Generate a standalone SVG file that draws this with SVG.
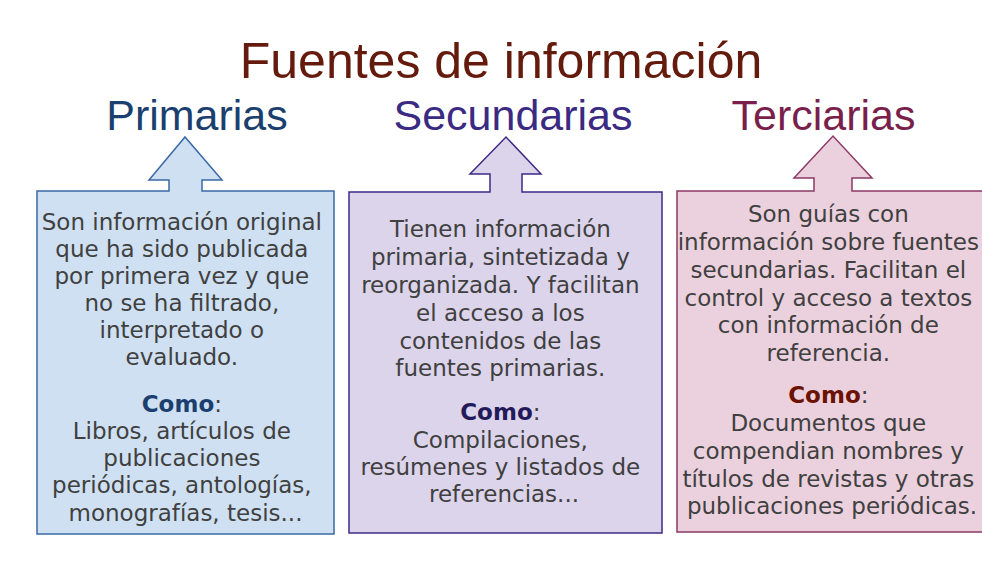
<svg xmlns="http://www.w3.org/2000/svg" width="982" height="570" viewBox="0 0 982 570">
<style>
.title{font-family:"Liberation Sans",Arial,sans-serif;font-size:50px;fill:#641a0c;text-anchor:middle}
.hdr{font-family:"Liberation Sans",Arial,sans-serif;font-size:43px;text-anchor:middle}
.body{font-family:"DejaVu Sans",Verdana,sans-serif;font-size:23px;fill:#404040;text-anchor:middle}
.como{font-weight:bold}
.shape{stroke-width:1.5}
</style>
<rect width="982" height="570" fill="#ffffff"/>
<text class="title" x="501" y="78">Fuentes de información</text>
<g id="primarias">
<text class="hdr" x="197" y="130" fill="#1b3f6e">Primarias</text>
<path class="shape" d="M37,191 H169 V180 H149 L185,137 L222,180 H202 V191 H334 V534 H37 Z" fill="#cfe0f2" stroke="#3b68a6"/>
<text class="body" x="185.5">
<tspan x="185.5" y="230">Son información original</tspan>
<tspan x="185.5" y="257">que ha sido publicada</tspan>
<tspan x="185.5" y="284">por primera vez y que</tspan>
<tspan x="185.5" y="311">no se ha filtrado,</tspan>
<tspan x="185.5" y="338">interpretado o</tspan>
<tspan x="185.5" y="365">evaluado.</tspan>
<tspan x="185.5" y="412"><tspan class="como" fill="#1b3f6e">Como</tspan>:</tspan>
<tspan x="185.5" y="439">Libros, artículos de</tspan>
<tspan x="185.5" y="466">publicaciones</tspan>
<tspan x="185.5" y="493">periódicas, antologías,</tspan>
<tspan x="185.5" y="521">monografías, tesis...</tspan>
</text>
</g>
<g id="secundarias">
<text class="hdr" x="513" y="130" fill="#3b2a82">Secundarias</text>
<path class="shape" d="M349,192 H490 V174 H470 L506,137 L541,174 H522 V192 H662 V533 H349 Z" fill="#dcd4ea" stroke="#3d2a86"/>
<text class="body">
<tspan x="504" y="237">Tienen información</tspan>
<tspan x="504" y="265">primaria, sintetizada y</tspan>
<tspan x="504" y="293">reorganizada. Y facilitan</tspan>
<tspan x="504" y="321">el acceso a los</tspan>
<tspan x="504" y="349">contenidos de las</tspan>
<tspan x="504" y="376">fuentes primarias.</tspan>
<tspan x="504" y="420"><tspan class="como" fill="#231a5a">Como</tspan>:</tspan>
<tspan x="504" y="448">Compilaciones,</tspan>
<tspan x="504" y="475">resúmenes y listados de</tspan>
<tspan x="504" y="502">referencias...</tspan>
</text>
</g>
<g id="terciarias">
<text class="hdr" x="823.5" y="130" fill="#7a1f4c">Terciarias</text>
<path class="shape" d="M677,191 H814 V178 H794 L833,136 L872,178 H852 V191 H990 V532 H677 Z" fill="#ebd1dd" stroke="#8c3a65"/>
<text class="body">
<tspan x="832" y="222">Son guías con</tspan>
<tspan x="832" y="250">información sobre fuentes</tspan>
<tspan x="832" y="278">secundarias. Facilitan el</tspan>
<tspan x="832" y="306">control y acceso a textos</tspan>
<tspan x="832" y="333">con información de</tspan>
<tspan x="832" y="361">referencia.</tspan>
<tspan x="832" y="403"><tspan class="como" fill="#6b1200">Como</tspan>:</tspan>
<tspan x="832" y="431">Documentos que</tspan>
<tspan x="832" y="459">compendian nombres y</tspan>
<tspan x="832" y="487">títulos de revistas y otras</tspan>
<tspan x="832" y="514">publicaciones periódicas.</tspan>
</text>
</g>
<g id="connectors"></g>
</svg>
